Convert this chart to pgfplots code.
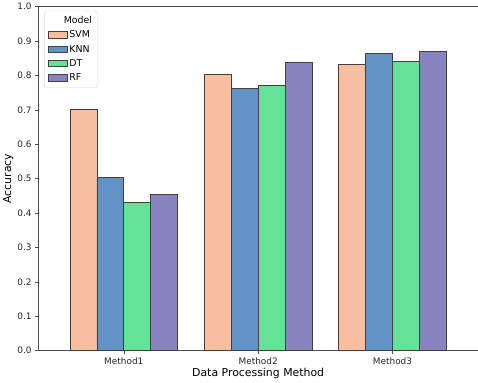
\documentclass[border=0pt]{standalone}
\usepackage{pgfplots}
\pgfplotsset{compat=1.18}
\usepackage{fontspec}
\setmainfont{DejaVu Sans}
\definecolor{csvm}{RGB}{248,190,160}
\definecolor{cknn}{RGB}{99,146,199}
\definecolor{cdt}{RGB}{100,227,150}
\definecolor{crf}{RGB}{137,131,191}
\begin{document}
\begin{tikzpicture}
\begin{axis}[
  scale only axis,
  width=442bp, height=346bp,
  ybar=0pt, bar width=0.2,
  xmin=-0.635, xmax=2.635,
  ymin=0, ymax=1,
  xtick={0,1,2}, xticklabels={Method1,Method2,Method3},
  ytick={0,0.1,...,1.0},
  yticklabel style={/pgf/number format/.cd,fixed,fixed zerofill,precision=1},
  /pgf/number format/assume math mode=true,
  tick label style={font=\fontsize{9}{10}\selectfont, black!85},
  label style={font=\fontsize{11}{12}\selectfont},
  xlabel={Data Processing Method}, ylabel={Accuracy},
  xlabel style={yshift=3pt}, ylabel style={yshift=-3pt},
  tick align=outside, tick pos=left,
  major tick length=3.5bp,
  axis line style={black!70},
  every tick/.style={black!70},
  legend style={at={(0.013,0.988)}, anchor=north west, draw=black!15, rounded corners=2pt,
    font=\fontsize{9.5}{11}\selectfont, row sep=2pt, inner sep=3.5pt},
  legend cell align=left,
  legend image code/.code={\draw[#1, sharp corners] (-0.05cm,-0.1cm) rectangle (0.62cm,0.13cm);},
  every axis plot/.append style={draw=black!75, line width=0.7pt},
]
\addlegendimage{empty legend}
\addlegendentry{\hspace{-0.2cm}Model}
\addplot[fill=csvm] coordinates {(0,0.702) (1,0.803) (2,0.832)};
\addlegendentry{SVM}
\addplot[fill=cknn] coordinates {(0,0.503) (1,0.762) (2,0.864)};
\addlegendentry{KNN}
\addplot[fill=cdt] coordinates {(0,0.431) (1,0.772) (2,0.841)};
\addlegendentry{DT}
\addplot[fill=crf] coordinates {(0,0.453) (1,0.838) (2,0.870)};
\addlegendentry{RF}
\end{axis}
\end{tikzpicture}
\end{document}
